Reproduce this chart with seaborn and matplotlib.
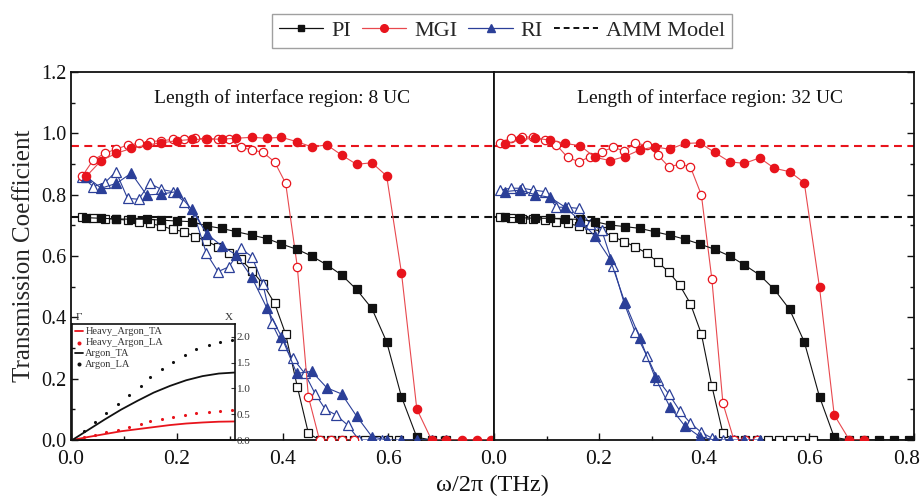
import numpy as np
import pandas as pd
import matplotlib
matplotlib.use("Agg")
import matplotlib.pyplot as plt
import matplotlib.transforms as mtransforms
import seaborn as sns
from matplotlib.lines import Line2D
from matplotlib.ticker import MultipleLocator

# ---------------- data: left panel (8 UC) ----------------
L_fill_x = [0.029, 0.057, 0.086, 0.114, 0.143, 0.171, 0.2, 0.228, 0.257, 0.285, 0.313, 0.342,
            0.37, 0.398, 0.427, 0.455, 0.484, 0.512, 0.54, 0.569, 0.597, 0.625, 0.654, 0.682,
            0.71, 0.739, 0.767, 0.795]
L_pi_fill = [0.725, 0.723, 0.721, 0.72, 0.72, 0.717, 0.714, 0.712, 0.698, 0.69, 0.679, 0.668,
             0.657, 0.639, 0.622, 0.6, 0.571, 0.538, 0.491, 0.429, 0.32, 0.141, 0.009, 0, 0]
L_mgi_fill = [0.86, 0.911, 0.935, 0.951, 0.962, 0.969, 0.976, 0.98, 0.981, 0.981, 0.984, 0.987,
              0.984, 0.987, 0.973, 0.956, 0.962, 0.929, 0.899, 0.904, 0.861, 0.545, 0.101, 0, 0,
              0, 0, 0]
L_ri_fill = [0.859, 0.821, 0.837, 0.87, 0.799, 0.802, 0.81, 0.752, 0.672, 0.633, 0.603, 0.53,
             0.432, 0.337, 0.217, 0.224, 0.17, 0.15, 0.078, 0.011, 0, 0, 0, 0, 0]

L_open_x = [0.021, 0.042, 0.064, 0.085, 0.107, 0.128, 0.149, 0.171, 0.192, 0.214, 0.235, 0.256,
            0.278, 0.299, 0.321, 0.342, 0.363, 0.385, 0.406, 0.428, 0.449, 0.47, 0.492, 0.513,
            0.535, 0.556, 0.577, 0.599, 0.62]
L_pi_open = [0.728, 0.725, 0.722, 0.72, 0.717, 0.712, 0.706, 0.698, 0.687, 0.679, 0.663, 0.649,
             0.63, 0.611, 0.589, 0.552, 0.509, 0.446, 0.345, 0.174, 0.022, 0, 0, 0, 0, 0, 0, 0, 0]
L_mgi_open = [0.86, 0.913, 0.935, 0.948, 0.962, 0.967, 0.973, 0.976, 0.98, 0.982, 0.984, 0.982,
              0.982, 0.981, 0.954, 0.946, 0.938, 0.907, 0.837, 0.565, 0.141, 0, 0, 0, 0]
L_ri_open_x = [0.021, 0.042, 0.064, 0.085, 0.107, 0.128, 0.149, 0.171, 0.192, 0.214, 0.235, 0.256,
               0.278, 0.299, 0.321, 0.342, 0.363, 0.38, 0.4, 0.42, 0.442, 0.462, 0.481, 0.501,
               0.523, 0.545, 0.566, 0.588]
L_ri_open = [0.859, 0.826, 0.839, 0.875, 0.788, 0.785, 0.837, 0.817, 0.81, 0.777, 0.723, 0.609,
             0.549, 0.565, 0.625, 0.598, 0.508, 0.38, 0.31, 0.266, 0.217, 0.15, 0.1, 0.082,
             0.049, 0, 0, 0]

# ---------------- data: right panel (32 UC) ----------------
R_fill_x = [0.021, 0.05, 0.078, 0.107, 0.135, 0.164, 0.192, 0.221, 0.249, 0.278, 0.306, 0.335,
            0.363, 0.392, 0.42, 0.449, 0.477, 0.506, 0.534, 0.563, 0.591, 0.62, 0.648, 0.677,
            0.705, 0.734, 0.762, 0.79]
R_pi_fill = [0.726, 0.725, 0.723, 0.723, 0.72, 0.72, 0.712, 0.701, 0.696, 0.69, 0.679, 0.668,
             0.655, 0.639, 0.622, 0.6, 0.571, 0.538, 0.491, 0.426, 0.32, 0.141, 0.009, 0, 0, 0,
             0, 0]
R_mgi_fill = [0.965, 0.98, 0.984, 0.978, 0.967, 0.96, 0.922, 0.911, 0.924, 0.946, 0.956, 0.948,
              0.967, 0.969, 0.938, 0.907, 0.902, 0.92, 0.886, 0.875, 0.839, 0.498, 0.082, 0, 0]
R_ri_fill = [0.81, 0.815, 0.8, 0.791, 0.76, 0.715, 0.665, 0.59, 0.45, 0.332, 0.207, 0.108,
             0.047, 0.011, 0, 0, 0, 0]

R_open_x = [0.011, 0.032, 0.054, 0.075, 0.097, 0.119, 0.14, 0.162, 0.183, 0.205, 0.227, 0.248,
            0.269, 0.291, 0.312, 0.333, 0.354, 0.374, 0.395, 0.415, 0.436, 0.457, 0.478, 0.5,
            0.521, 0.543, 0.564, 0.585, 0.607]
R_pi_open = [0.728, 0.725, 0.721, 0.72, 0.717, 0.712, 0.706, 0.698, 0.687, 0.682, 0.663, 0.647,
             0.63, 0.609, 0.58, 0.548, 0.504, 0.445, 0.346, 0.176, 0.022, 0, 0, 0, 0, 0, 0, 0, 0]
R_mgi_open = [0.969, 0.984, 0.989, 0.987, 0.978, 0.962, 0.922, 0.907, 0.924, 0.94, 0.954, 0.943,
              0.967, 0.962, 0.929, 0.891, 0.899, 0.891, 0.799, 0.524, 0.12, 0, 0, 0]
R_ri_open = [0.815, 0.821, 0.821, 0.815, 0.81, 0.759, 0.759, 0.755, 0.704, 0.685, 0.569, 0.446,
             0.351, 0.275, 0.197, 0.15, 0.095, 0.055, 0.025, 0.006, 0, 0, 0, 0]

AMM_MGI = 0.958
AMM_PI = 0.728

# ---------------- inset dispersion data (Gamma -> X) ----------------
k_line = [0.0, 0.1, 0.2, 0.3, 0.4, 0.5, 0.6, 0.7, 0.8, 0.9, 1.0]
argon_TA = [0.0, 0.2, 0.4, 0.59, 0.76, 0.92, 1.05, 1.16, 1.24, 1.29, 1.31]
heavy_TA = [0.0, 0.06, 0.115, 0.17, 0.21, 0.25, 0.29, 0.32, 0.34, 0.355, 0.36]
k_dots = [0.0, 0.07, 0.14, 0.21, 0.28, 0.35, 0.42, 0.48, 0.55, 0.62, 0.69, 0.76, 0.84, 0.91, 0.98]
argon_LA = [0.0, 0.17, 0.34, 0.52, 0.70, 0.88, 1.05, 1.22, 1.38, 1.52, 1.65, 1.76, 1.85, 1.91, 1.94]
heavy_LA = [0.0, 0.05, 0.1, 0.15, 0.2, 0.26, 0.32, 0.36, 0.4, 0.44, 0.49, 0.52, 0.55, 0.57, 0.58]

panel_titles = ["Length of interface region: 8 UC", "Length of interface region: 32 UC"]
legend_labels = ["PI", "MGI", "RI", "AMM Model"]
inset_labels = ["Heavy_Argon_TA", "Heavy_Argon_LA", "Argon_TA", "Argon_LA"]

BLACK = "#111111"
RED = "#e8141c"
RED_LINE = "#e8484e"
BLUE = "#2b3f98"

sns.set_theme(style="ticks")
plt.rcParams["font.family"] = ["Liberation Serif", "DejaVu Serif"]

fig = plt.figure(figsize=(9.22, 4.98), dpi=100)
W, H = 922, 498
ax1 = fig.add_axes([71 / W, (H - 440) / H, 423 / W, 368 / H])
ax2 = fig.add_axes([494 / W, (H - 440) / H, 420 / W, 368 / H])


def series(ax, x, y, color, lcolor, marker, filled, ms, z):
    n = min(len(x), len(y))
    sns.lineplot(x=x[:n], y=y[:n], ax=ax, color=lcolor, linewidth=0.8, marker=marker,
                 markersize=ms, markerfacecolor=(color if filled else "white"),
                 markeredgecolor=color, markeredgewidth=0.9, estimator=None,
                 errorbar=None, zorder=z)


for ax, d in [
    (ax1, dict(fx=L_fill_x, ox=L_open_x, rox=L_ri_open_x, pif=L_pi_fill, mgif=L_mgi_fill,
               rif=L_ri_fill, pio=L_pi_open, mgio=L_mgi_open, rio=L_ri_open)),
    (ax2, dict(fx=R_fill_x, ox=R_open_x, rox=R_open_x, pif=R_pi_fill, mgif=R_mgi_fill,
               rif=R_ri_fill, pio=R_pi_open, mgio=R_mgi_open, rio=R_ri_open)),
]:
    ax.axhline(AMM_MGI, color=RED, ls=(0, (3.8, 2.6)), lw=1.5, zorder=1)
    ax.axhline(AMM_PI, color=BLACK, ls=(0, (3.8, 2.6)), lw=1.5, zorder=1)
    series(ax, d["ox"], d["pio"], BLACK, BLACK, "s", False, 5.2, 3)
    series(ax, d["rox"], d["rio"], BLUE, BLUE, "^", False, 6.5, 3)
    series(ax, d["ox"], d["mgio"], RED, RED_LINE, "o", False, 6, 3)
    series(ax, d["fx"], d["pif"], BLACK, BLACK, "s", True, 5.2, 4)
    series(ax, d["fx"], d["rif"], BLUE, BLUE, "^", True, 6.5, 4)
    series(ax, d["fx"], d["mgif"], RED, RED_LINE, "o", True, 6, 4)

for i, ax in enumerate([ax1, ax2]):
    ax.set_xlim(0, 0.8)
    ax.set_ylim(0, 1.2)
    ax.xaxis.set_major_locator(MultipleLocator(0.2))
    ax.xaxis.set_minor_locator(MultipleLocator(0.1))
    ax.yaxis.set_major_locator(MultipleLocator(0.2))
    ax.yaxis.set_minor_locator(MultipleLocator(0.1))
    ax.tick_params(which="both", direction="in", width=1.0, colors=BLACK)
    ax.tick_params(axis="x", which="both", labelsize=15.5, pad=7)
    ax.tick_params(which="major", length=5)
    ax.tick_params(which="minor", length=3)
    for s in ax.spines.values():
        s.set_linewidth(1.3)
        s.set_color(BLACK)
    ax.set_xlabel("")
    ax.set_ylabel("")
    ax.text(0.5 if i == 0 else 0.514, 0.93, panel_titles[i], transform=ax.transAxes,
            ha="center", va="center", fontsize=14, color=BLACK)

ax1.set_xticks([0.0, 0.2, 0.4, 0.6])
ax1.set_xticklabels(["0.0", "0.2", "0.4", "0.6"])
ax1.xaxis.set_minor_locator(MultipleLocator(0.1))
ax1.tick_params(axis="y", left=True, right=False, labelsize=14.5)
ax2.set_xticks([0.0, 0.2, 0.4, 0.6, 0.8])
ax2.set_xticklabels(["0.0", "0.2", "0.4", "0.6", "0.8"])
ax2.tick_params(axis="y", which="both", left=False, right=True, labelleft=False)
# nudge the last label so it stays inside the figure
last = ax2.get_xticklabels()[-1]
last.set_transform(last.get_transform() + mtransforms.ScaledTranslation(-7 / 100, 0, fig.dpi_scale_trans))

ax1.set_ylabel("Transmission Coefficient", fontsize=18, labelpad=4)
fig.text((71 + 914) / 2 / W, 1 - 485 / H, "ω/2π (THz)", ha="center", va="center",
         fontsize=17.5, color=BLACK)

# ---------------- inset ----------------
ins = ax1.inset_axes([0.003, 0.0, 0.385, 0.315])
ins.set_facecolor("none")
sns.lineplot(x=k_line, y=heavy_TA, ax=ins, color=RED, linewidth=1.3, label=inset_labels[0],
             estimator=None, errorbar=None)
sns.scatterplot(x=k_dots, y=heavy_LA, ax=ins, color=RED, s=5, marker="o", linewidth=0,
                label=inset_labels[1])
sns.lineplot(x=k_line, y=argon_TA, ax=ins, color=BLACK, linewidth=1.3, label=inset_labels[2],
             estimator=None, errorbar=None)
sns.scatterplot(x=k_dots, y=argon_LA, ax=ins, color=BLACK, s=5, marker="o", linewidth=0,
                label=inset_labels[3])
ins.set_xlim(0, 1.0)
ins.set_ylim(0, 2.25)
ins.set_xlabel("")
ins.set_ylabel("")
ins.set_xticks([])
ins.yaxis.tick_right()
ins.set_yticks([0.0, 0.5, 1.0, 1.5, 2.0])
ins.set_yticklabels(["0.0", "0.5", "1.0", "1.5", "2.0"])
ins.tick_params(axis="y", direction="in", length=3, width=0.8, labelsize=8, pad=1,
                colors="#333333")
for s in ins.spines.values():
    s.set_linewidth(1.2)
    s.set_color(BLACK)
ins.text(0.02, 1.02, "Γ", transform=ins.transAxes, ha="left", va="bottom", fontsize=8,
         color="#333333")
ins.text(0.96, 1.02, "X", transform=ins.transAxes, ha="center", va="bottom", fontsize=8,
         color="#333333")
leg_in = ins.legend(loc="upper left", frameon=False, fontsize=7.5, handlelength=0.7,
                    handletextpad=0.25, labelspacing=0.15, borderaxespad=0.2,
                    markerscale=1.3, borderpad=0.1)
for t in leg_in.get_texts():
    t.set_color("#333333")

# ---------------- main legend ----------------
handles = [
    Line2D([], [], color=BLACK, lw=0.9, marker="s", ms=5, mfc=BLACK, mec=BLACK),
    Line2D([], [], color=RED_LINE, lw=0.9, marker="o", ms=5.5, mfc=RED, mec=RED),
    Line2D([], [], color=BLUE, lw=0.9, marker="^", ms=6, mfc=BLUE, mec=BLUE),
    Line2D([], [], color=BLACK, lw=1.4, ls=(0, (3.0, 2.0))),
]
leg = fig.legend(handles, legend_labels, loc="center", bbox_to_anchor=(502 / W, 1 - 31 / H),
                 ncol=4, frameon=True, fancybox=False, edgecolor="#888888", fontsize=16,
                 handlelength=2.0, columnspacing=0.5, handletextpad=0.35, borderpad=0.3)
leg.get_frame().set_linewidth(1.0)

fig.savefig("out.png", dpi=100)
